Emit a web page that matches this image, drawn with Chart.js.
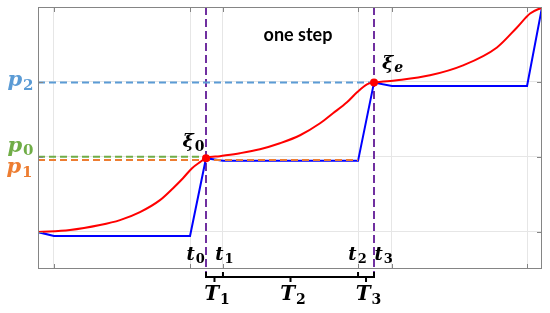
<!DOCTYPE html>
<html>
<head>
<meta charset="utf-8">
<script src="https://cdn.jsdelivr.net/npm/chart.js@4.4.1/dist/chart.umd.min.js"></script>
<style>
  html, body { margin: 0; padding: 0; background: #fff; }
  #wrap { width: 550px; height: 313px; }
</style>
</head>
<body>
<div id="wrap"><canvas id="chart" width="550" height="313"></canvas></div>
<script>
// grid positions (x in step units, y in level units)
const xGrid = [0.095, 0.905, 1.101, 1.905, 2.107, 2.911];
const yGrid = [0.5, 1.5, 2.5];

// red: accumulated curve
const redX = [0, 0.19, 0.369, 0.488, 0.607, 0.726, 0.804, 0.863, 0.917, 0.964, 1.0,
              1.083, 1.202, 1.321, 1.44, 1.56, 1.679, 1.756, 1.839, 1.899, 1.958, 2.0,
              2.137, 2.333, 2.53, 2.732, 2.851, 2.929, 3.0];
const redY = [0.493, 0.52, 0.587, 0.653, 0.76, 0.92, 1.08, 1.213, 1.347, 1.427, 1.48,
              1.507, 1.547, 1.6, 1.68, 1.787, 1.947, 2.08, 2.227, 2.36, 2.467, 2.49,
              2.52, 2.587, 2.72, 2.96, 3.227, 3.413, 3.493];

// blue: piecewise linear
const blueX = [0, 0.095, 0.905, 1.0, 1.101, 1.905, 2.0, 2.107, 2.911, 3.0];
const blueY = [0.493, 0.44, 0.44, 1.48, 1.445, 1.445, 2.49, 2.445, 2.445, 3.493];

// levels p0, p1, p2 and where each dashed line stops
const pLevels = { p0: 1.5, p1: 1.455, p2: 2.493 };
const pEnds = { p0: 1.0, p1: 1.905, p2: 2.0 };

// key points xi_0, xi_e
const xiX = [1.0, 2.0];
const xiY = [1.48, 2.49];

// step boundaries (T1 | T2 | T3)
const stepEdges = [1.0, 1.101, 1.905, 2.0];
const purpleBottom = -0.107;

const zip = (xs, ys) => xs.map((x, i) => ({ x: x, y: ys[i] }));

const GRAY = '#858585';
const C = { p0: '#70AD47', p1: '#ED7D31', p2: '#5B9BD5', purple: '#7030A0' };

function subText(ctx, main, sub, cx, base, size, color, subItalic) {
    const f1 = 'italic bold ' + size + 'px "DejaVu Serif"';
    const f2 = (subItalic ? 'italic ' : '') + 'bold ' + Math.round(size * 0.72) + 'px "DejaVu Serif"';
    ctx.font = f1;
    const w1 = ctx.measureText(main).width;
    ctx.font = f2;
    const w2 = ctx.measureText(sub).width;
    const x0 = cx - (w1 + w2) / 2;
    ctx.fillStyle = color;
    ctx.textAlign = 'left';
    ctx.textBaseline = 'alphabetic';
    ctx.font = f1;
    ctx.fillText(main, x0, base);
    ctx.font = f2;
    ctx.fillText(sub, x0 + w1 + 1, base + size * 0.18);
}

const decor = {
    id: 'decor',
    afterDatasetsDraw(chart) {
        const ctx = chart.ctx;
        const a = chart.chartArea;
        const xs = chart.scales.x, ys = chart.scales.y;
        ctx.save();
        // box and inner ticks
        ctx.strokeStyle = GRAY;
        ctx.lineWidth = 1;
        ctx.strokeRect(a.left + 0.5, a.top + 0.5, a.right - a.left - 1, a.bottom - a.top - 1);
        ctx.beginPath();
        xGrid.forEach(v => {
            const px = Math.round(xs.getPixelForValue(v)) + 0.5;
            ctx.moveTo(px, a.bottom); ctx.lineTo(px, a.bottom - 5);
            ctx.moveTo(px, a.top); ctx.lineTo(px, a.top + 5);
        });
        yGrid.forEach(v => {
            const py = Math.round(ys.getPixelForValue(v)) + 0.5;
            ctx.moveTo(a.left, py); ctx.lineTo(a.left + 5, py);
            ctx.moveTo(a.right, py); ctx.lineTo(a.right - 5, py);
        });
        ctx.stroke();

        // bracket under the step
        const by = ys.getPixelForValue(purpleBottom);
        ctx.strokeStyle = '#000';
        ctx.lineWidth = 2;
        ctx.beginPath();
        const e = stepEdges.map(v => xs.getPixelForValue(v));
        ctx.moveTo(e[0], by); ctx.lineTo(e[3], by);
        e.forEach(px => { ctx.moveTo(px, by + 1); ctx.lineTo(px, by - 5); });
        for (let i = 0; i < 3; i++) {
            const m = (e[i] + e[i + 1]) / 2;
            ctx.moveTo(m, by); ctx.lineTo(m, by + 5);
        }
        ctx.stroke();

        // labels
        const tX = [0.935, 1.107, 1.899, 2.054];
        tX.forEach((v, i) => subText(ctx, 't', String(i), xs.getPixelForValue(v), 260, 18, '#000'));
        for (let i = 0; i < 3; i++) {
            const m = (e[i] + e[i + 1]) / 2;
            subText(ctx, 'T', String(i + 1), m + 2, 300, 20, '#000');
        }
        subText(ctx, 'p', '2', 20, ys.getPixelForValue(pLevels.p2) + 4, 21, C.p2);
        subText(ctx, 'p', '0', 20, ys.getPixelForValue(pLevels.p0) - 5, 21, C.p0);
        subText(ctx, 'p', '1', 19, ys.getPixelForValue(pLevels.p1) + 13, 21, C.p1);
        subText(ctx, 'ξ', '0', xs.getPixelForValue(xiX[0]) - 13, ys.getPixelForValue(xiY[0]) - 11, 19, '#000');
        subText(ctx, 'ξ', 'e', xs.getPixelForValue(xiX[1]) + 18, ys.getPixelForValue(xiY[1]) - 14, 19, '#000', true);

        ctx.fillStyle = '#000';
        ctx.font = 'bold 18px Lato';
        ctx.textAlign = 'center';
        ctx.textBaseline = 'alphabetic';
        ctx.fillText('one step', 298, 41);
        ctx.restore();
    }
};

const dashed = (data, color, order, dash) => ({
    data: data, borderColor: color, borderWidth: 2, borderDash: dash || [7, 4],
    pointRadius: 0, tension: 0, fill: false, order: order
});

new Chart(document.getElementById('chart'), {
    type: 'line',
    data: {
        datasets: [
            { data: zip(xiX, xiY), showLine: false, pointRadius: 4, pointBackgroundColor: '#FF0000',
              pointBorderColor: '#FF0000', pointBorderWidth: 0, order: 0 },
            { data: zip(redX, redY), borderColor: '#FF0000', borderWidth: 2, pointRadius: 0,
              tension: 0.4, cubicInterpolationMode: 'monotone', fill: false, order: 1 },
            dashed([{ x: 0, y: pLevels.p1 }, { x: pEnds.p1, y: pLevels.p1 }], C.p1, 2),
            dashed([{ x: 0, y: pLevels.p0 }, { x: pEnds.p0, y: pLevels.p0 }], C.p0, 3),
            dashed([{ x: 0, y: pLevels.p2 }, { x: pEnds.p2, y: pLevels.p2 }], C.p2, 4),
            { data: zip(blueX, blueY), borderColor: '#0000FF', borderWidth: 2, pointRadius: 0,
              tension: 0, fill: false, order: 5 },
            Object.assign(dashed([{ x: xiX[0], y: 3.5 }, { x: xiX[0], y: purpleBottom }], C.purple, 6, [8, 4]), { clip: false }),
            Object.assign(dashed([{ x: xiX[1], y: 3.5 }, { x: xiX[1], y: purpleBottom }], C.purple, 7, [8, 4]), { clip: false })
        ]
    },
    options: {
        responsive: false,
        animation: false,
        layout: { padding: { left: 38, right: 8, top: 7, bottom: 44 } },
        plugins: { legend: { display: false }, tooltip: { enabled: false } },
        scales: {
            x: {
                type: 'linear', min: 0, max: 3,
                afterBuildTicks: s => { s.ticks = xGrid.map(v => ({ value: v })); },
                ticks: { display: false },
                grid: { color: '#e6e6e6', drawTicks: false },
                border: { display: false }
            },
            y: {
                type: 'linear', min: 0, max: 3.5,
                afterBuildTicks: s => { s.ticks = yGrid.map(v => ({ value: v })); },
                ticks: { display: false },
                grid: { color: '#e6e6e6', drawTicks: false },
                border: { display: false }
            }
        }
    },
    plugins: [decor]
});
</script>
</body>
</html>
